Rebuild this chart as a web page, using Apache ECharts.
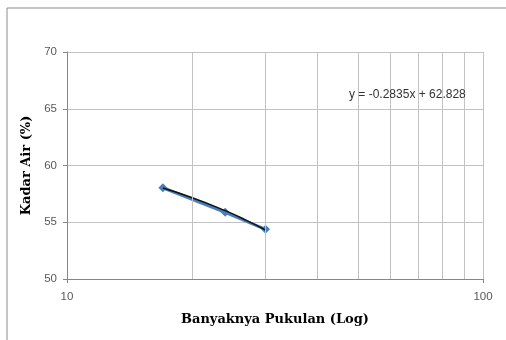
<!DOCTYPE html>
<html>
<head>
<meta charset="utf-8">
<script src="https://cdn.jsdelivr.net/npm/echarts@6/dist/echarts.min.js"></script>
<style>html,body{margin:0;padding:0;background:#fff;}#c{width:506px;height:340px;}</style>
</head>
<body>
<div id="c"></div>
<script>
// Data
var blows = [17, 24, 30];
var moisture = [58.04, 55.88, 54.38];
var trendX = [17, 20, 24, 27, 30];
var trendY = [58.01, 57.16, 56.02, 55.17, 54.32];
var minorGridX = [20, 30, 40, 50, 60, 70, 80, 90];
var yTicks = [50, 55, 60, 65, 70];
var equationText = 'y = -0.2835x + 62.828';

var chart = echarts.init(document.getElementById('c'));
var grayAxis = '#868686';
var gridGray = '#c3c3c3';
var tickFont = { color: '#595959', fontSize: 11.5, fontFamily: 'Liberation Sans' };

chart.setOption({
  animation: false,
  backgroundColor: '#fff',
  grid: { left: 67, right: 23, top: 52, bottom: 61, containLabel: false },
  xAxis: {
    type: 'log', logBase: 10, min: 10, max: 100,
    name: 'Banyaknya Pukulan (Log)', nameLocation: 'middle', nameGap: 34,
    nameTextStyle: { fontFamily: 'DejaVu Serif', fontWeight: 'bold', fontSize: 13, color: '#000' },
    axisLine: { show: true, lineStyle: { color: grayAxis, width: 1 } },
    axisTick: { show: true, length: 4, inside: false, lineStyle: { color: grayAxis } },
    axisLabel: Object.assign({ margin: 12 }, tickFont),
    splitLine: { show: true, lineStyle: { color: gridGray, width: 1 } },
    minorTick: { show: false }, minorSplitLine: { show: false }
  },
  yAxis: {
    type: 'value', min: yTicks[0], max: yTicks[yTicks.length - 1], interval: 5,
    name: 'Kadar Air (%)', nameLocation: 'middle', nameGap: 32, nameRotate: 90,
    nameTextStyle: { fontFamily: 'DejaVu Serif', fontWeight: 'bold', fontSize: 13, color: '#000' },
    axisLine: { show: true, lineStyle: { color: grayAxis, width: 1 } },
    axisTick: { show: true, length: 4, inside: false, lineStyle: { color: grayAxis } },
    axisLabel: Object.assign({ margin: 10 }, tickFont),
    splitLine: { show: true, lineStyle: { color: gridGray, width: 1 } }
  },
  series: [
    {
      type: 'line', data: [], z: 1, silent: true,
      markLine: {
        silent: true, symbol: ['none', 'none'], animation: false,
        label: { show: false },
        lineStyle: { type: 'solid', color: gridGray, width: 1 },
        data: minorGridX.map(function (v) { return { xAxis: v }; })
      }
    },
    {
      type: 'line', z: 3,
      data: blows.map(function (b, i) { return [b, moisture[i]]; }),
      symbol: 'diamond', symbolSize: 9,
      itemStyle: { color: '#4a7ebb' },
      lineStyle: { color: '#4a7ebb', width: 3 }
    },
    {
      type: 'line', z: 4, smooth: true, symbol: 'none',
      data: trendX.map(function (x, i) { return [x, trendY[i]]; }),
      lineStyle: { color: '#111', width: 1.5 }
    }
  ],
  graphic: [
    { type: 'line', shape: { x1: 7, y1: 8, x2: 506, y2: 8 }, style: { stroke: '#8c8c8c', lineWidth: 1 } },
    { type: 'line', shape: { x1: 7, y1: 8, x2: 7, y2: 340 }, style: { stroke: '#8c8c8c', lineWidth: 1 } },
    { type: 'text', left: 349, top: 89, z: 10,
      style: { text: equationText, fill: '#333', fontSize: 12, fontFamily: 'Liberation Sans' } }
  ]
});
</script>
</body>
</html>
